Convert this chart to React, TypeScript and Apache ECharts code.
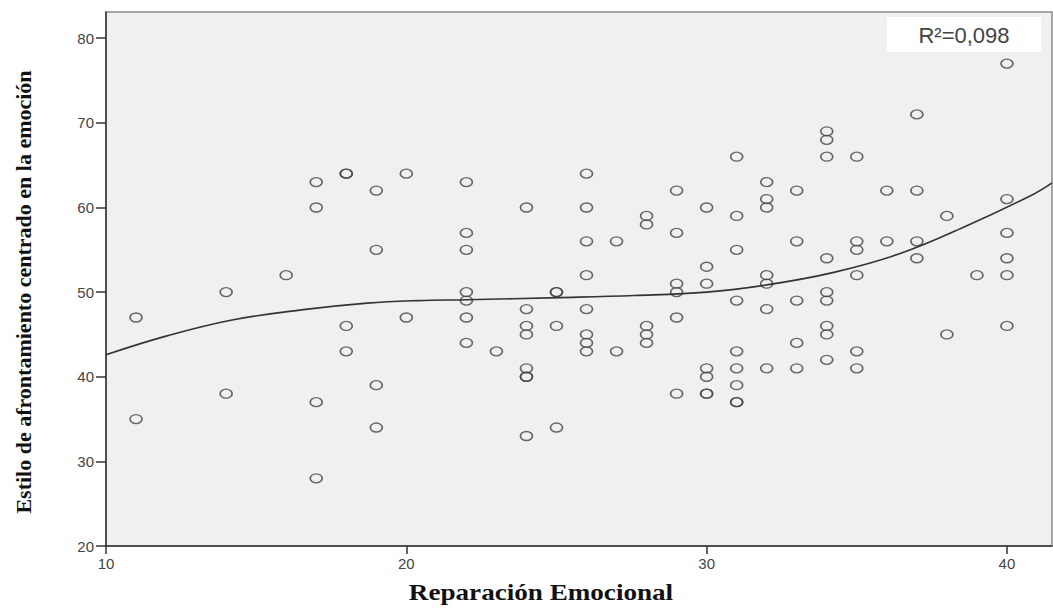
import React, { useEffect, useRef } from "react";
import * as echarts from "echarts";

// Reparación Emocional (x) grouped, with Estilo de afrontamiento values (y)
const groupX = [11, 14, 16, 17, 18, 19, 20, 22, 23, 24, 25, 26, 27, 28, 29, 30, 31, 32, 33, 34, 35, 36, 37, 38, 39, 40];
const groupY = [
  [47, 35],
  [50, 38],
  [52],
  [63, 60, 37, 28],
  [64, 64, 46, 43],
  [62, 55, 39, 34],
  [64, 47],
  [63, 57, 55, 50, 49, 47, 44],
  [43],
  [60, 48, 46, 45, 41, 40, 40, 33],
  [50, 50, 46, 34],
  [64, 60, 56, 52, 48, 45, 44, 43],
  [56, 43],
  [59, 58, 46, 45, 44],
  [62, 57, 51, 50, 47, 38],
  [60, 53, 51, 41, 40, 38, 38],
  [66, 59, 55, 49, 43, 41, 39, 37, 37],
  [63, 61, 60, 52, 51, 48, 41],
  [62, 56, 49, 44, 41],
  [69, 68, 66, 54, 50, 49, 46, 45, 42],
  [66, 56, 55, 52, 43, 41],
  [62, 56],
  [71, 62, 56, 54],
  [59, 45],
  [52],
  [77, 61, 57, 54, 52, 46],
];

// Cubic fit line
const fitX = [10, 12, 14.2, 16.5, 18.7, 20.4, 22, 25.1, 27.6, 30, 32, 34.2, 36.4, 38.7, 40.9, 41.5];
const fitY = [42.6, 44.8, 46.7, 47.9, 48.7, 49.0, 49.1, 49.35, 49.6, 50.0, 50.85, 52.3, 54.5, 57.9, 61.6, 62.9];

const xTicks = [10, 20, 30, 40];
const yTicks = [20, 30, 40, 50, 60, 70, 80];
const r2Label = "R²=0,098";
const xTitle = "Reparación Emocional";
const yTitle = "Estilo de afrontamiento centrado en la emoción";

export default function App() {
  const ref = useRef<HTMLDivElement>(null);
  useEffect(() => {
    if (!ref.current) return;
    const chart = echarts.init(ref.current, undefined, { renderer: "svg" });
    const points: number[][] = [];
    groupX.forEach((x, i) => groupY[i].forEach((y) => points.push([x, y])));
    const line = fitX.map((x, i) => [x, fitY[i]]);
    const labelStyle = { color: "#444", fontFamily: "Liberation Sans", fontSize: 15 };
    const titleStyle = { fontFamily: "Liberation Serif", fontWeight: "bold", fill: "#111", align: "center", verticalAlign: "middle" };
    chart.setOption({
      animation: false,
      backgroundColor: "#ffffff",
      grid: {
        left: 106,
        top: 12,
        right: 1,
        bottom: 62,
        show: true,
        backgroundColor: "#f0f0f0",
        borderColor: "#8a8a8a",
        borderWidth: 1.5,
      },
      xAxis: {
        type: "value",
        min: 10,
        max: 41.5,
        splitLine: { show: false },
        axisLine: { show: true, onZero: false, lineStyle: { color: "#333", width: 1.5 } },
        axisTick: { show: true, length: 8, customValues: xTicks, lineStyle: { color: "#333", width: 1.5 } },
        axisLabel: { ...labelStyle, margin: 10, customValues: xTicks },
      },
      yAxis: {
        type: "value",
        min: 20,
        max: 83.1,
        splitLine: { show: false },
        axisLine: { show: true, onZero: false, lineStyle: { color: "#333", width: 1.5 } },
        axisTick: { show: true, length: 10, customValues: yTicks, lineStyle: { color: "#333", width: 1.5 } },
        axisLabel: { ...labelStyle, margin: 12, customValues: yTicks },
      },
      series: [
        {
          type: "scatter",
          data: points,
          symbol: "path://M0,5 A5,5 0 1,1 10,5 A5,5 0 1,1 0,5 Z",
          symbolSize: [12, 9],
          itemStyle: { color: "rgba(0,0,0,0)", borderColor: "#444", borderWidth: 1.5 },
          z: 3,
        },
        {
          type: "line",
          data: line,
          smooth: 0.4,
          showSymbol: false,
          symbol: "none",
          clip: true,
          lineStyle: { color: "#333", width: 1.6 },
          z: 4,
        },
      ],
      graphic: [
        {
          type: "rect",
          shape: { x: 887, y: 17, width: 154, height: 35 },
          style: { fill: "#ffffff" },
          z: 10,
        },
        {
          type: "text",
          x: 964,
          y: 35,
          style: {
            text: r2Label,
            fontFamily: "Liberation Sans",
            fontSize: 22,
            fill: "#444",
            align: "center",
            verticalAlign: "middle",
          },
          z: 11,
        },
        {
          type: "text",
          x: 541,
          y: 592,
          scaleX: 1.13,
          style: { ...titleStyle, text: xTitle, fontSize: 24 },
          z: 11,
        },
        {
          type: "text",
          x: 23,
          y: 292,
          rotation: Math.PI / 2,
          style: { ...titleStyle, text: yTitle, fontSize: 22 },
          z: 11,
        },
      ],
    });
    return () => chart.dispose();
  }, []);
  return (
    <div
      ref={ref}
      style={{ position: "fixed", left: 0, top: 0, width: 1053, height: 608 }}
    />
  );
}
